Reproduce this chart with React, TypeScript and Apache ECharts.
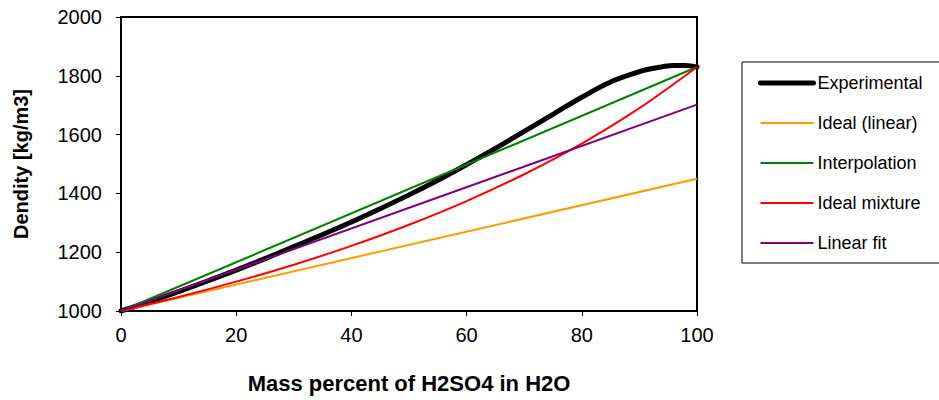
import React, { useEffect, useRef } from "react";
import * as echarts from "echarts";

const massPercentExp = [0, 5, 10, 15, 20, 25, 30, 35, 40, 45, 50, 55, 60, 65, 70, 75, 80, 85, 90, 92, 94, 96, 98, 100];
const densityExp = [1000, 1032, 1066, 1102, 1139, 1178, 1219, 1260, 1303, 1348, 1395, 1445, 1498, 1553, 1611, 1669, 1727, 1779, 1814, 1824, 1831, 1835, 1835, 1830];

const massPercentLin = [0, 100];
const idealLinear = [1000, 1450];
const interpolation = [1000, 1830];
const linearFit = [1000, 1702];

const massPercentMix = [0, 10, 20, 30, 40, 50, 60, 70, 80, 90, 100];
const idealMixture = [1000, 1047.5, 1099.8, 1157.5, 1221.6, 1293.3, 1373.9, 1465.2, 1569.5, 1689.8, 1830];

const yTicks = [1000, 1200, 1400, 1600, 1800, 2000];
const xTicks = [0, 20, 40, 60, 80, 100];

const FONT = "'Liberation Sans', Arial, sans-serif";

function pairs(xs: number[], ys: number[]) {
  return xs.map((x, i) => [x, ys[i]]);
}

export default function App() {
  const ref = useRef<HTMLDivElement>(null);
  useEffect(() => {
    document.body.style.margin = "0";
    const chart = echarts.init(ref.current!, null, { renderer: "svg" });
    chart.setOption({
      animation: false,
      backgroundColor: "#ffffff",
      textStyle: { fontFamily: FONT },
      grid: {
        left: 121,
        top: 17,
        width: 576,
        height: 294,
        show: true,
        borderColor: "#000",
        borderWidth: 2,
        containLabel: false,
      },
      xAxis: {
        type: "value",
        min: xTicks[0],
        max: xTicks[xTicks.length - 1],
        interval: 20,
        name: "Mass percent of H2SO4 in H2O",
        nameLocation: "middle",
        nameGap: 61,
        nameTextStyle: { fontSize: 22, fontWeight: "bold", color: "#000", fontFamily: FONT },
        axisLine: { show: true, lineStyle: { color: "#000", width: 2 } },
        axisTick: { show: true, inside: false, length: 5, lineStyle: { color: "#000", width: 1 } },
        axisLabel: { fontSize: 20, color: "#000", margin: 14, fontFamily: FONT, formatter: (v: number) => String(v) },
        splitLine: { show: false },
      },
      yAxis: {
        type: "value",
        min: yTicks[0],
        max: yTicks[yTicks.length - 1],
        interval: 200,
        name: "Dendity [kg/m3]",
        nameLocation: "middle",
        nameGap: 90,
        nameTextStyle: { fontSize: 20, fontWeight: "bold", color: "#000", fontFamily: FONT },
        axisLine: { show: true, lineStyle: { color: "#000", width: 2 } },
        axisTick: { show: true, inside: false, length: 5, lineStyle: { color: "#000", width: 1 } },
        axisLabel: { fontSize: 20, color: "#000", margin: 19, fontFamily: FONT, formatter: (v: number) => String(v) },
        splitLine: { show: false },
      },
      legend: {
        orient: "vertical",
        left: 742,
        top: 62,
        itemWidth: 53,
        itemHeight: 14,
        itemGap: 22,
        padding: [12, 30, 11, 16],
        borderColor: "#000",
        borderWidth: 1,
        itemStyle: { opacity: 0, borderWidth: 0 },
        textStyle: { fontSize: 18, color: "#000", fontFamily: FONT, padding: [0, 0, 0, -1] },
        data: [
          { name: "Experimental", lineStyle: { width: 5, cap: "round" } },
          { name: "Ideal (linear)", lineStyle: { width: 2 } },
          { name: "Interpolation", lineStyle: { width: 2 } },
          { name: "Ideal mixture", lineStyle: { width: 2 } },
          { name: "Linear fit", lineStyle: { width: 2 } },
        ],
      },
      series: [
        {
          name: "Experimental",
          type: "line",
          smooth: 0.4,
          symbol: "none",
          data: pairs(massPercentExp, densityExp),
          lineStyle: { color: "#000", width: 5, cap: "round" },
          itemStyle: { color: "#000" },
        },
        {
          name: "Ideal (linear)",
          type: "line",
          symbol: "none",
          data: pairs(massPercentLin, idealLinear),
          lineStyle: { color: "#FF9900", width: 2 },
          itemStyle: { color: "#FF9900" },
        },
        {
          name: "Interpolation",
          type: "line",
          symbol: "none",
          data: pairs(massPercentLin, interpolation),
          lineStyle: { color: "#008000", width: 2 },
          itemStyle: { color: "#008000" },
        },
        {
          name: "Ideal mixture",
          type: "line",
          smooth: 0.3,
          symbol: "none",
          data: pairs(massPercentMix, idealMixture),
          lineStyle: { color: "#FF0000", width: 2 },
          itemStyle: { color: "#FF0000" },
        },
        {
          name: "Linear fit",
          type: "line",
          symbol: "none",
          data: pairs(massPercentLin, linearFit),
          lineStyle: { color: "#800080", width: 2 },
          itemStyle: { color: "#800080" },
        },
      ],
    });
    return () => chart.dispose();
  }, []);
  return (
    <div
      ref={ref}
      style={{ position: "absolute", left: 0, top: 0, width: 939, height: 400 }}
    />
  );
}
